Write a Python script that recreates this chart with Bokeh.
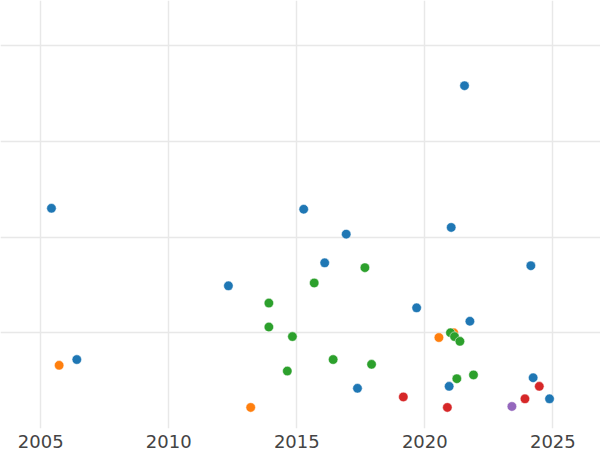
from bokeh.plotting import figure
from bokeh.models import Range1d, SingleIntervalTicker
from bokeh.embed import file_html
from bokeh.resources import INLINE

# Series data (year, value)
blue_x = [2005.42, 2006.41, 2015.27, 2016.93, 2016.09, 2012.33, 2017.37, 2021.03,
          2024.14, 2019.68, 2021.76, 2020.95, 2024.23, 2024.87, 2021.55]
blue_y = [2.30, 0.72, 2.29, 2.03, 1.73, 1.49, 0.42, 2.10,
          1.70, 1.26, 1.12, 0.44, 0.53, 0.31, 3.58]

orange_x = [2005.72, 2013.20, 2020.55, 2021.13]
orange_y = [0.66, 0.22, 0.95, 1.00]

green_x = [2017.66, 2015.68, 2013.91, 2013.91, 2014.83, 2016.42, 2017.92, 2014.63,
           2021.00, 2021.16, 2021.37, 2021.90, 2021.25]
green_y = [1.68, 1.52, 1.31, 1.06, 0.96, 0.72, 0.67, 0.60,
           1.00, 0.96, 0.91, 0.56, 0.52]

red_x = [2019.16, 2020.88, 2023.91, 2024.47]
red_y = [0.33, 0.22, 0.31, 0.44]

purple_x = [2023.40]
purple_y = [0.23]

series = [
    (blue_x, blue_y, "#1f77b4"),
    (orange_x, orange_y, "#ff7f0e"),
    (green_x, green_y, "#2ca02c"),
    (red_x, red_y, "#d62728"),
    (purple_x, purple_y, "#9467bd"),
]

p = figure(width=600, height=450, output_backend="svg", toolbar_location=None,
           x_range=Range1d(2003.43, 2026.86), y_range=Range1d(0, 4.47),
           min_border_left=0, min_border_right=0, min_border_top=0, min_border_bottom=0)

for xs, ys, c in series:
    p.scatter(xs, ys, size=9.5, fill_color=c, line_color="white", line_width=0.5)

p.xaxis.ticker = SingleIntervalTicker(interval=5)
p.yaxis.ticker = SingleIntervalTicker(interval=1)
p.yaxis.visible = False
p.xaxis.axis_line_color = None
p.xaxis.major_tick_line_color = None
p.xaxis.minor_tick_line_color = None
p.xaxis.major_label_text_font = "DejaVu Sans"
p.xaxis.major_label_text_font_size = "18px"
p.xaxis.major_label_text_color = "#444444"
p.xaxis.major_label_standoff = 2
p.xaxis.major_tick_out = 0
p.xaxis.major_tick_in = 0
p.outline_line_color = None
p.xgrid.grid_line_color = "#e8e8e8"
p.ygrid.grid_line_color = "#e8e8e8"
p.xgrid.grid_line_width = 1.5
p.ygrid.grid_line_width = 1.5

open("out.html", "w").write(file_html(p, INLINE))
